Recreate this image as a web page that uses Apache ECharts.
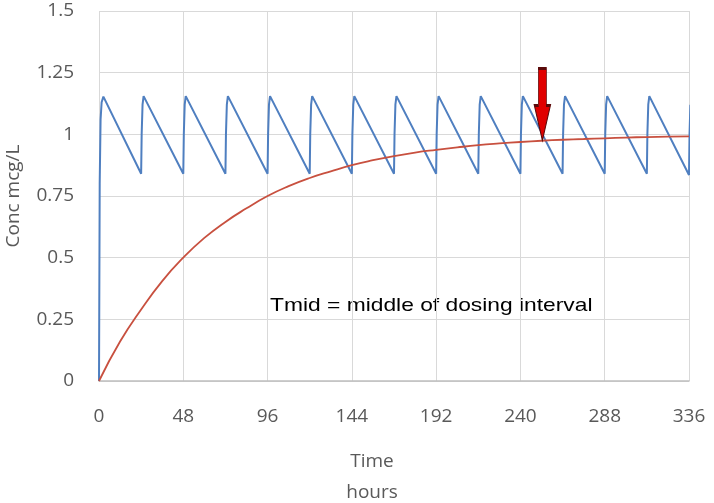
<!DOCTYPE html>
<html>
<head>
<meta charset="utf-8">
<script src="https://cdn.jsdelivr.net/npm/echarts@6/dist/echarts.min.js"></script>
<style>
html,body{margin:0;padding:0;background:#fff;}
#chart{width:714px;height:503px;}
</style>
</head>
<body>
<div id="chart"></div>
<script>
// X axis ticks (hours) and Y axis ticks (mcg/L)
var xTicks = [0, 48, 96, 144, 192, 240, 288, 336];
var yTicks = [0, 0.25, 0.5, 0.75, 1, 1.25, 1.5];

// Multiple-dose concentration (blue): [time h, conc]
var multipleDose = [
  [0,0],[0.4,0.8],[0.9,1.06],[1.5,1.13],[2.5,1.153],
  [24,0.84],[24.3,1.0],[24.8,1.12],[25.4,1.155],[26.2,1.16],
  [48,0.84],[48.3,1.0],[48.8,1.12],[49.4,1.155],[50.2,1.16],
  [72,0.84],[72.3,1.0],[72.8,1.12],[73.4,1.155],[74.2,1.16],
  [96,0.84],[96.3,1.0],[96.8,1.12],[97.4,1.155],[98.2,1.16],
  [120,0.84],[120.3,1.0],[120.8,1.12],[121.4,1.155],[122.2,1.16],
  [144,0.84],[144.3,1.0],[144.8,1.12],[145.4,1.155],[146.2,1.16],
  [168,0.84],[168.3,1.0],[168.8,1.12],[169.4,1.155],[170.2,1.16],
  [192,0.84],[192.3,1.0],[192.8,1.12],[193.4,1.155],[194.2,1.16],
  [216,0.84],[216.3,1.0],[216.8,1.12],[217.4,1.155],[218.2,1.16],
  [240,0.84],[240.3,1.0],[240.8,1.12],[241.4,1.155],[242.2,1.16],
  [264,0.84],[264.3,1.0],[264.8,1.12],[265.4,1.155],[266.2,1.16],
  [288,0.84],[288.3,1.0],[288.8,1.12],[289.4,1.155],[290.2,1.16],
  [312,0.84],[312.3,1.0],[312.8,1.12],[313.4,1.155],[314.2,1.16],
  [336,0.835],[336.3,1.0],[336.8,1.12]
];

// Accumulation curve at Tmid (red)
var tmidTimes = [0,12,24,36,48,60,72,84,96,108,120,132,144,156,168,180,192,204,216,228,240,252,264,276,288,300,312,324,336];
var tmidConc  = [0,0.16,0.29,0.405,0.5,0.58,0.645,0.70,0.75,0.79,0.823,0.85,0.875,0.895,0.912,0.926,0.937,0.947,0.956,0.963,0.969,0.974,0.978,0.981,0.984,0.987,0.989,0.991,0.992];

// Arrow marking Tmid
var arrowPoint = [252.5, 0.975];
var annotation = 'Tmid = middle of dosing interval';
var xTitle = ['Time', 'hours'];
var yTitle = 'Conc mcg/L';

var tmidSeries = tmidTimes.map(function(t, i){ return [t, tmidConc[i]]; });

var chart = echarts.init(document.getElementById('chart'));
var labelFont = {color:'#595959', fontSize:19, fontFamily:'Open Sans'};
chart.setOption({
  animation:false,
  backgroundColor:'#ffffff',
  grid:{left:99, right:25, top:11, bottom:122, containLabel:false, outerBoundsMode:'none'},
  xAxis:{
    type:'value', min:xTicks[0], max:xTicks[xTicks.length-1], interval:48,
    axisLine:{show:true, lineStyle:{color:'#bfbfbf', width:1.5}},
    axisTick:{show:false},
    axisLabel:Object.assign({margin:26}, labelFont),
    splitLine:{show:true, lineStyle:{color:'#d9d9d9', width:1}}
  },
  yAxis:{
    type:'value', min:yTicks[0], max:yTicks[yTicks.length-1], interval:0.25,
    axisLine:{show:false},
    axisTick:{show:false},
    axisLabel:Object.assign({margin:25, formatter:function(v){return String(v);}}, labelFont),
    splitLine:{show:true, lineStyle:{color:'#d9d9d9', width:1}},
    name:yTitle, nameLocation:'middle', nameGap:76,
    nameTextStyle:{color:'#595959', fontSize:19, fontFamily:'Open Sans'}
  },
  graphic:[
    {type:'text', x:372, y:462, style:{text:xTitle[0], fill:'#595959', font:'19px "Open Sans"', textAlign:'center', textVerticalAlign:'middle'}},
    {type:'text', x:372, y:493, style:{text:xTitle[1], fill:'#595959', font:'19px "Open Sans"', textAlign:'center', textVerticalAlign:'middle'}},
    {type:'text', x:270, y:306, scaleX:1.2, style:{text:annotation, fill:'#000000', font:'19px "Liberation Sans"', textAlign:'left', textVerticalAlign:'middle'}}
  ],
  series:[
    {
      type:'line', data:multipleDose, showSymbol:false, clip:true,
      lineStyle:{color:'#4f7fc0', width:2}, z:2
    },
    {
      type:'line', data:tmidSeries, showSymbol:false, smooth:true, clip:true,
      lineStyle:{color:'#c8503f', width:1.8}, z:3,
      markPoint:{
        symbol:'path://M4,0 L12,0 L12,37 L16,37 L8,72 L0,37 L4,37 Z',
        symbolSize:[16,72], symbolOffset:[0,'-50%'],
        itemStyle:{color:'#e00000', borderColor:'#5a0a0a', borderWidth:1.5},
        label:{show:false},
        data:[{coord:arrowPoint}]
      }
    }
  ]
});
</script>
</body>
</html>
